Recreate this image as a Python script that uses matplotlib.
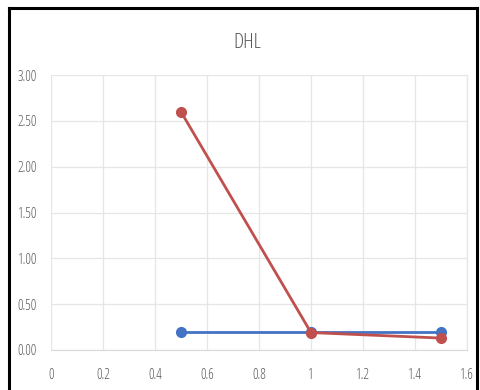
import matplotlib
matplotlib.use("Agg")
import matplotlib.pyplot as plt
from matplotlib.lines import Line2D

# Two DHL series sampled at the same x positions
x_vals = [0.5, 1.0, 1.5]
series_blue = [0.20, 0.20, 0.20]
series_red = [2.60, 0.19, 0.13]

x_ticks = [0, 0.2, 0.4, 0.6, 0.8, 1.0, 1.2, 1.4, 1.6]
x_tick_labels = ["0", "0.2", "0.4", "0.6", "0.8", "1", "1.2", "1.4", "1.6"]
y_ticks = [0.0, 0.5, 1.0, 1.5, 2.0, 2.5, 3.0]
y_tick_labels = ["0.00", "0.50", "1.00", "1.50", "2.00", "2.50", "3.00"]

plt.rcParams["font.family"] = ["Open Sans", "DejaVu Sans"]

fig = plt.figure(figsize=(4.8, 3.9), dpi=100)
ax = fig.add_axes([0.106, 0.1026, 0.867, 0.705])

ax.plot(x_vals, series_blue, color="#4472C4", lw=2.0, marker="o", ms=7,
        solid_capstyle="round", zorder=3)
ax.plot(x_vals, series_red, color="#C0504D", lw=2.0, marker="o", ms=7,
        solid_capstyle="round", zorder=4)

ax.set_xlim(0, 1.6)
ax.set_ylim(0, 3.0)
ax.set_xticks(x_ticks)
ax.set_xticklabels(x_tick_labels)
ax.set_yticks(y_ticks)
ax.set_yticklabels(y_tick_labels)
ax.grid(True, color="#e6e6e6", lw=0.9)
ax.set_axisbelow(True)
for side in ["top", "left"]:
    ax.spines[side].set_visible(False)
ax.spines["right"].set_color("#e6e6e6")
ax.spines["right"].set_linewidth(0.9)
ax.spines["bottom"].set_color("#d9d9d9")
ax.tick_params(length=0, colors="#595959", labelsize=10)
ax.tick_params(axis="x", pad=13)
ax.tick_params(axis="y", pad=10)
for lbl in ax.get_xticklabels() + ax.get_yticklabels():
    lbl.set_fontstretch("condensed")

fig.text(0.515, 0.89, "DHL", ha="center", va="center", fontsize=15,
         color="#595959", fontstretch="condensed")

# black frame around the chart
fig.add_artist(Line2D([0.019, 0.019], [0.0, 0.98], transform=fig.transFigure,
                      color="black", lw=2.2))
fig.add_artist(Line2D([0.019, 0.994], [0.98, 0.98], transform=fig.transFigure,
                      color="black", lw=2.2))
fig.add_artist(Line2D([0.994, 0.994], [0.0, 0.98], transform=fig.transFigure,
                      color="black", lw=2.2))

fig.savefig("out.png", dpi=100)
